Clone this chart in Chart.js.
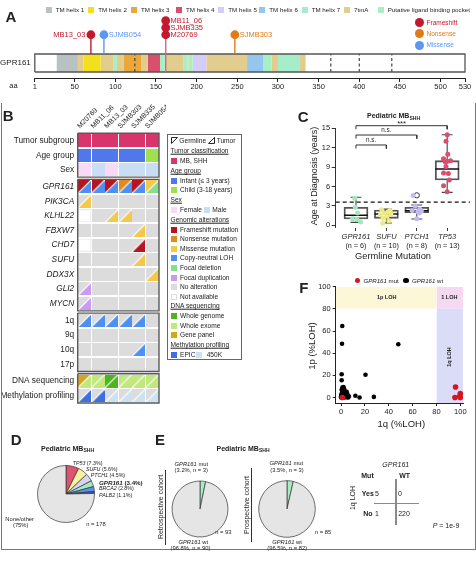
<!DOCTYPE html>
<html><head><meta charset="utf-8">
<script src="https://cdn.jsdelivr.net/npm/chart.js@4.4.1/dist/chart.umd.min.js"></script>
<style>
html,body{margin:0;padding:0;background:#fff;}
#fig{position:relative;width:476px;height:561px;overflow:hidden;background:#fff;font-family:'Liberation Sans',Arial,Helvetica,sans-serif;color:#222;}
#fig canvas{position:absolute;}
.t{position:absolute;white-space:nowrap;line-height:1;}
.b{position:absolute;box-sizing:border-box;}
.sub{font-size:72%;position:relative;top:0.3em;}
</style></head>
<body><div id="fig"></div>
<script>
// ================= DATA =================
// Panel A – GPR161 protein
const proteinLength = 530;
const aaTicks = [1, 50, 100, 150, 200, 250, 300, 350, 400, 450, 500, 530];
const domainNames = ['TM helix 1','TM helix 2','TM helix 3','TM helix 4','TM helix 5','TM helix 6','TM helix 7','7tmA','Putative ligand binding pocket'];
const domainColors = ['#b9c2c2','#f3df1e','#eaa83a','#d9506e','#d4cdf7','#94c6ef','#a6edcb','#e2cd8f','#aaeec4'];
const domainStart = [28, 54, 61, 82, 98, 102, 110, 132, 140, 155, 161, 184, 189, 190, 195, 212, 262, 282, 292, 300, 327];
const domainEnd   = [54, 61, 82, 98, 102, 110, 132, 140, 155, 161, 184, 189, 190, 195, 212, 262, 282, 292, 300, 327, 334];
const domainType  = [0, 7, 1, 7, 8, 7, 2, 7, 3, 8, 7, 8, 7, 8, 4, 7, 5, 8, 7, 6, 7];
const dashedAA = [124, 365, 400, 440];
const mutSample = ['MB13_03','SJMB054','M20769','SJMB335','MB11_06','SJMB303'];
const mutAA = [70, 86, 162, 162, 162, 247];
const mutClass = ['Frameshift','Missense','Frameshift','Frameshift','Frameshift','Nonsense'];
const mutClasses = ['Frameshift','Nonsense','Missense'];

// Panel B – oncoprint
const samples = ['M20769','MB11_06','MB13_03','SJMB303','SJMB335','SJMB054'];
const rowLabels = ['Tumor subgroup','Age group','Sex','GPR161','PIK3CA','KLHL22','FBXW7','CHD7','SUFU','DDX3X','GLI2','MYCN','1q','9q','10q','17p','DNA sequencing','Methylation profiling'];
const rowGroup = [0,0,0,1,1,1,1,1,1,1,1,1,2,2,2,2,3,3];
const tumorSubgroup = ['SHH','SHH','SHH','SHH','SHH','SHH'];
const ageGroup = ['Infant','Infant','Infant','Infant','Infant','Child'];
const sexRow = ['Female','Male','Female','Male','Male','Male'];
const gpr161Row = ['FS/LOH','FS/LOH','FS/LOH','NS/LOH','FS/LOH','MS/DEL'];
const pik3caRow = ['-/MS','-/-','-/-','-/-','-/-','-/-'];
const klhl22Row = ['NA','-/-','-/MS','-/MS','-/-','-/-'];
const fbxw7Row  = ['-/-','-/-','-/-','-/-','-/MS','-/-'];
const chd7Row   = ['NA','-/-','-/-','-/-','-/FS','-/-'];
const sufuRow   = ['-/-','-/-','-/-','-/-','-/MS','-/-'];
const ddx3xRow  = ['-/-','-/-','-/-','-/-','-/-','-/MS'];
const gli2Row   = ['-/DUP','-/-','-/-','-/-','-/-','-/-'];
const mycnRow   = ['-/DUP','-/-','-/-','-/-','-/-','-/-'];
const chr1qRow  = ['-/LOH','-/LOH','-/LOH','-/LOH','-/LOH','-/-'];
const chr9qRow  = ['-/-','-/-','-/-','-/-','-/-','-/-'];
const chr10qRow = ['-/-','-/-','-/-','-/-','-/LOH','-/-'];
const chr17pRow = ['-/-','-/-','-/-','-/-','-/-','-/-'];
const dnaSeqRow = ['GP/WES','WES/WES','WGS/WGS','WES/WES','WES/WES','WES/WES'];
const methylRow = ['-/EPIC','-/EPIC','-/450K','-/450K','-/450K','-/450K'];
const cellColors = {SHH:'#d7356b', Infant:'#5077ec', Child:'#9fe04d', Female:'#f8d9f6', Male:'#c9ddf4',
  FS:'#b6141f', NS:'#e38a1f', MS:'#f3c94b', LOH:'#4e8ff2', DEL:'#84de8f', DUP:'#c99cf2', '-':'#dcdcdc', NA:'#ffffff',
  WGS:'#4db61e', WES:'#c1e87d', GP:'#d3a61d', EPIC:'#3c6fe2', '450K':'#c9e3f5'};

// Panel C – age at diagnosis by germline mutation
const germGenes = ['GPR161','SUFU','PTCH1','TP53'];
const germN = [6, 10, 8, 13];
const ageGPR161 = [4.2, 2.8, 1.9, 1.0, 0.9, 0.5];
const jitGPR161 = [-0.04, -0.02, 0.05, -0.12, 0.03, 0.15];
const ageSUFU = [2.4, 2.3, 2.1, 1.9, 1.8, 1.6, 1.4, 1.1, 0.7, 0.3];
const jitSUFU = [-0.15, 0.12, 0.05, -0.08, 0.15, -0.2, 0.02, -0.1, 0.08, -0.12];
const agePTCH1 = [4.6, 3.0, 2.5, 2.3, 2.2, 2.1, 1.9, 1.0];
const jitPTCH1 = [-0.12, -0.05, 0.1, -0.15, 0.15, 0.03, 0.08, 0.0];
const ageTP53 = [14.0, 13.0, 11.0, 10.3, 10.0, 9.9, 9.1, 8.1, 8.0, 7.0, 6.1, 5.2, 9.8];
const jitTP53 = [0.0, -0.04, 0.02, -0.12, 0.11, 0.0, -0.04, -0.12, 0.04, 0.07, -0.12, 0.0, -0.06];
const boxLo  = [0.46, 0.35, 0.97, 5.1];
const boxQ1  = [0.97, 1.08, 1.95, 7.0];
const boxMed = [1.55, 1.75, 2.26, 8.7];
const boxQ3  = [2.78, 2.37, 2.78, 10.0];
const boxHi  = [4.33, 2.5, 3.14, 14.0];
const outlierGroup = [2];
const outlierAge = [4.64];
const infantCutoff = 3.6;
const compFrom = [1, 1, 1];
const compTo = [2, 3, 4];
const compLabel = ['n.s.', 'n.s.', '***'];
const compY = [12.42, 13.96, 15.4];

// Panel D – germline predisposition pie
const pieDGenes = ['TP53','SUFU','PTCH1','GPR161','BRCA2','PALB2','None/other'];
const pieDPct = [7.3, 5.6, 4.5, 3.4, 2.8, 1.1, 75.3];
const pieDTotal = 178;

// Panel E – cohorts
const retroCounts = [3, 90];
const prosCounts = [3, 82];

// Panel F – 1p / 1q LOH
const wt1q = [1, 0.8, 0.5, 0.5, 48, 20.5, 12, 15.5, 27.5, 1.1, 2.5, 2.5, 4.7, 5.3, 0.6, 4.2, 6, 0, 1.7, 3.3, 1, 2, 3, 0.5, 1.5, 3.5, 2.8, 0, 1, 2, 0.3, 4, 5, 0.2, 1.5, 3, 2, 6.5];
const wt1p = [64.5, 48.5, 21, 15.5, 48, 20.5, 1.5, 0, 0.5, 9, 8, 6.6, 5.1, 3, 2.1, 0.6, 0, 0, 3.5, 2, 5, 1, 0, 7, 4.5, 4, 2.8, 1, 0, 0.3, 3, 1.5, 0.2, 0.5, 1.8, 6, 9.5, 1];
const mut1q = [96, 95.5, 100, 99.5, 100, 1];
const mut1p = [9.5, 0, 3.5, 1, 0, 0];
const lohCutoff = 80;
const lohTicks = [0, 20, 40, 60, 80, 100];

// 2x2 table
const tableRows = ['Yes', 'No'];
const tableCols = ['Mut', 'WT'];
const tableCounts = [[5, 0], [1, 220]];

// ================= HELPERS =================
Chart.defaults.font.family = "'Liberation Sans', Arial, Helvetica, sans-serif";
Chart.defaults.color = '#222';
const FAM = "'Liberation Sans', Arial, Helvetica, sans-serif";
const fig = document.getElementById('fig');
function T(x, y, html, o = {}) {
  const d = document.createElement('div');
  d.className = 't'; d.innerHTML = html;
  const s = d.style;
  s.left = x + 'px'; s.top = y + 'px';
  s.fontSize = (o.size || 7) + 'px';
  if (o.bold) s.fontWeight = 'bold';
  if (o.italic) s.fontStyle = 'italic';
  if (o.color) s.color = o.color;
  if (o.underline) s.textDecoration = 'underline';
  const ax = o.align === 'center' ? '-50%' : o.align === 'right' ? '-100%' : '0';
  s.transform = `translate(${ax},-50%)` + (o.rot ? ` rotate(${o.rot}deg)` : '');
  fig.appendChild(d); return d;
}
function box(x, y, w, h, css) {
  const d = document.createElement('div'); d.className = 'b';
  Object.assign(d.style, {left: x + 'px', top: y + 'px', width: w + 'px', height: h + 'px'}, css || {});
  fig.appendChild(d); return d;
}
function mk(x, y, w, h, cfg) {
  const c = document.createElement('canvas');
  c.width = w; c.height = h;
  Object.assign(c.style, {left: x + 'px', top: y + 'px', width: w + 'px', height: h + 'px'});
  fig.appendChild(c);
  cfg.options = Object.assign({responsive: false, maintainAspectRatio: false, animation: false, events: []}, cfg.options || {});
  cfg.options.plugins = Object.assign({legend: {display: false}, tooltip: {enabled: false}}, cfg.options.plugins || {});
  const ch = new Chart(c, cfg);
  ch.offX = x; ch.offY = y;
  return ch;
}
const px = (ch, v) => ch.offX + ch.scales.x.getPixelForValue(v);
const py = (ch, v) => ch.offY + ch.scales.y.getPixelForValue(v);
const noPad = s => { s.paddingLeft = 0; s.paddingRight = 0; s.paddingTop = 0; s.paddingBottom = 0; };
const seg = (pts) => ({type: 'scatter', showLine: true, pointRadius: 0, data: pts, borderWidth: 1, borderColor: '#333', fill: false});

// ================= PANEL A =================
const typeColor = {Frameshift: '#c3182d', Nonsense: '#e27b17', Missense: '#5b98f0'};
const level = mutAA.map((p, i) => mutAA.slice(0, i).filter(q => q === p).length);
const dotY = level.map(l => 2.07 + l * 0.39);
const dsA = [];
dsA.push({type: 'scatter', data: mutAA.map((p, i) => ({x: p, y: dotY[i]})), pointRadius: 4.4,
  pointBackgroundColor: mutClass.map(c => typeColor[c]), pointBorderWidth: 0, order: 0, clip: false});
[...new Set(mutAA)].forEach(p => {
  const idx = mutAA.indexOf(p);
  const multi = mutAA.filter(q => q === p).length > 1;
  dsA.push(Object.assign(seg([{x: p, y: multi ? 0 : 1}, {x: p, y: 2.07}]),
    {borderColor: multi ? '#d0687e' : typeColor[mutClass[idx]], borderWidth: 1.4, order: 1}));
});
dsA.push(Object.assign(seg([{x: 1, y: 0}, {x: proteinLength, y: 0}, {x: proteinLength, y: 1}, {x: 1, y: 1}, {x: 1, y: 0}]),
  {borderColor: '#555', borderWidth: 1.3, order: 2, clip: false}));
dashedAA.forEach(p => dsA.push(Object.assign(seg([{x: p, y: 0}, {x: p, y: 1}]),
  {borderColor: '#444', borderWidth: 1.2, borderDash: [3, 2.5], order: 3})));
domainStart.forEach((s, i) => dsA.push(Object.assign(seg([{x: s, y: 0.5}, {x: domainEnd[i], y: 0.5}]),
  {borderColor: domainColors[domainType[i]], borderWidth: 18, order: 4})));
const chartA = mk(0, 0, 476, 100, {type: 'scatter', data: {datasets: dsA}, options: {
  layout: {padding: {left: 0, right: 11, top: 18, bottom: 0}},
  scales: {
    x: {type: 'linear', min: 1, max: proteinLength,
      afterBuildTicks: s => { s.ticks = aaTicks.map(v => ({value: v})); },
      ticks: {font: {size: 7.5}, color: '#222', padding: 0, autoSkip: false, maxRotation: 0},
      grid: {display: true, drawOnChartArea: false, drawTicks: true, tickLength: 4, color: '#222'},
      border: {display: true, color: '#222', width: 1},
      afterFit: s => { s.height = 22; noPad(s); }},
    y: {type: 'linear', min: -0.333, max: 3,
      afterBuildTicks: s => { s.ticks = [{value: 0.5}]; },
      ticks: {callback: () => 'GPR161', font: {size: 8}, color: '#222', padding: 4},
      grid: {display: false, drawTicks: false}, border: {display: false},
      afterFit: s => { s.width = 34.8; noPad(s); }}
  }}});

// ================= PANEL B =================
const rowsB = [tumorSubgroup, ageGroup, sexRow, gpr161Row, pik3caRow, klhl22Row, fbxw7Row, chd7Row, sufuRow, ddx3xRow, gli2Row, mycnRow, chr1qRow, chr9qRow, chr10qRow, chr17pRow, dnaSeqRow, methylRow];
const rowY = rowLabels.map((_, i) => i + 0.15 * rowGroup[i]);
const CS = 13;
function cellImg(code) {
  const c = document.createElement('canvas'); c.width = CS; c.height = CS;
  const g = c.getContext('2d');
  const p = code.split('/');
  if (p.length === 1 || (p[0] === '-' && p[1] === '-')) {
    g.fillStyle = cellColors[p[0]]; g.fillRect(0, 0, CS, CS);
    if (p[0] === 'NA') { g.strokeStyle = '#ececec'; g.lineWidth = 1; g.strokeRect(0.5, 0.5, CS - 1, CS - 1); }
  } else {
    g.fillStyle = cellColors[p[0]]; g.beginPath(); g.moveTo(0, 0); g.lineTo(CS, 0); g.lineTo(0, CS); g.closePath(); g.fill();
    g.fillStyle = cellColors[p[1]]; g.beginPath(); g.moveTo(CS, 0); g.lineTo(CS, CS); g.lineTo(0, CS); g.closePath(); g.fill();
    g.strokeStyle = '#fff'; g.lineWidth = 1.1; g.beginPath(); g.moveTo(0, CS); g.lineTo(CS, 0); g.stroke();
  }
  return c;
}
const dsB = [];
[0, 1, 2, 3].forEach(gr => {
  const ys = rowY.filter((_, i) => rowGroup[i] === gr);
  const t = Math.min(...ys) - 0.5, b = Math.max(...ys) + 0.5;
  dsB.push(Object.assign(seg([{x: -0.5, y: t}, {x: 5.5, y: t}, {x: 5.5, y: b}, {x: -0.5, y: b}, {x: -0.5, y: t}]),
    {borderColor: '#5a5a5a', borderWidth: 1.4, order: 0, clip: false}));
});
rowsB.forEach((row, r) => dsB.push({type: 'scatter', order: 1,
  data: row.map((_, c) => ({x: c, y: rowY[r]})), pointRadius: 6, pointStyle: row.map(cellImg)}));
mk(0, 104, 166, 306, {type: 'scatter', data: {datasets: dsB}, options: {
  layout: {padding: {left: 0, right: 1.7, top: 0, bottom: 3.3}},
  scales: {
    x: {type: 'linear', position: 'top', min: -0.5, max: 5.5,
      afterBuildTicks: s => { s.ticks = samples.map((_, i) => ({value: i})); },
      ticks: {callback: (v, i) => samples[i], font: {size: 7}, color: '#222', padding: 3, autoSkip: false, minRotation: 45, maxRotation: 45},
      grid: {display: false, drawTicks: false}, border: {display: false},
      afterFit: s => { s.height = 29.3; noPad(s); }},
    y: {type: 'linear', reverse: true, min: -0.5, max: 17.95,
      afterBuildTicks: s => { s.ticks = rowY.map(v => ({value: v})); },
      ticks: {callback: (v, i) => rowLabels[i], autoSkip: false, color: '#222', padding: 3.5,
        font: ctx => ({family: FAM, size: 8.3, style: (rowGroup[ctx.index] === 1) ? 'italic' : 'normal'})},
      grid: {display: false, drawTicks: false}, border: {display: false},
      afterFit: s => { s.width = 77.7; noPad(s); }}
  }}});

// ================= PANEL C =================
const ageData = [ageGPR161, ageSUFU, agePTCH1, ageTP53];
const jitData = [jitGPR161, jitSUFU, jitPTCH1, jitTP53];
const ptColors = ['#a3e7bb', '#eeea86', '#c3baf1', '#dc4e70'];
const dsC = [];
ageData.forEach((arr, g) => dsC.push({type: 'scatter', order: 0, data: arr.map((v, k) => ({x: g + 1 + jitData[g][k], y: v})),
  pointRadius: 2.5, pointBackgroundColor: ptColors[g], pointBorderWidth: 0}));
dsC.push({type: 'scatter', order: 0, data: outlierGroup.map((g, k) => ({x: g + 1, y: outlierAge[k]})),
  pointRadius: 2.6, pointBackgroundColor: '#fff', pointBorderColor: '#333', pointBorderWidth: 1});
const medPts = [], whPts = [], brPts = [];
germGenes.forEach((g, i) => {
  const c = i + 1;
  medPts.push({x: c - 0.39, y: boxMed[i]}, {x: c + 0.39, y: boxMed[i]}, {x: c, y: null});
  whPts.push({x: c - 0.18, y: boxHi[i]}, {x: c + 0.18, y: boxHi[i]}, {x: c, y: null},
    {x: c, y: boxHi[i]}, {x: c, y: boxQ3[i]}, {x: c, y: null},
    {x: c, y: boxQ1[i]}, {x: c, y: boxLo[i]}, {x: c, y: null},
    {x: c - 0.18, y: boxLo[i]}, {x: c + 0.18, y: boxLo[i]}, {x: c, y: null});
});
compFrom.forEach((a, j) => {
  const b = compTo[j], y = compY[j];
  brPts.push({x: a, y: y - 0.55}, {x: a, y: y}, {x: b, y: y}, {x: b, y: y - 0.55}, {x: a, y: null});
});
dsC.push(Object.assign(seg(medPts), {borderColor: '#111', borderWidth: 1.4, order: 1, spanGaps: false}));
dsC.push(Object.assign(seg(whPts), {borderColor: '#444', borderWidth: 1.1, order: 1, spanGaps: false}));
dsC.push(Object.assign(seg(brPts), {borderColor: '#333', borderWidth: 1, order: 1, spanGaps: false, clip: false}));
dsC.push({type: 'bar', order: 2, data: germGenes.map((g, i) => ({x: i + 1, y: [boxQ1[i], boxQ3[i]]})),
  backgroundColor: 'rgba(255,255,255,0)', borderColor: '#555', borderWidth: 1.2, borderSkipped: false, barThickness: 24});
dsC.push(Object.assign(seg([{x: 0.333, y: infantCutoff}, {x: 4.75, y: infantCutoff}]),
  {borderColor: '#111', borderWidth: 1.2, borderDash: [4, 3], order: 3}));
const chartC = mk(300, 110, 176, 132, {type: 'bar', data: {datasets: dsC}, options: {
  layout: {padding: {left: 0, right: 6, top: 18.3, bottom: 0}},
  scales: {
    x: {type: 'linear', min: 0.333, max: 4.75, offset: false,
      afterBuildTicks: s => { s.ticks = germGenes.map((_, i) => ({value: i + 1})); },
      ticks: {callback: (v, i) => germGenes[i], font: {size: 7.5, style: 'italic'}, color: '#222', padding: 2, autoSkip: false, maxRotation: 0},
      grid: {display: true, offset: false, drawOnChartArea: false, drawTicks: true, tickLength: 3, color: '#333'},
      border: {display: false},
      afterFit: s => { s.height = 14.1; noPad(s); }},
    y: {type: 'linear', min: -0.4, max: 15,
      afterBuildTicks: s => { s.ticks = [0, 3, 6, 9, 12, 15].map(v => ({value: v})); },
      ticks: {font: {size: 7.5}, color: '#222', padding: 1.5},
      grid: {display: true, drawOnChartArea: false, drawTicks: true, tickLength: 4, color: '#333'},
      border: {display: true, color: '#333'},
      afterFit: s => { s.width = 35.7; noPad(s); }}
  }}});

// ================= PANEL F =================
const xMinF = -4.5, xMaxF = 102.5, yMinF = -5, yMaxF = 100;
const dsF = [];
dsF.push({type: 'scatter', order: 0, data: mut1q.map((v, i) => ({x: v, y: mut1p[i]})), pointRadius: 2.8, pointBackgroundColor: '#d7141f', pointBorderWidth: 0});
dsF.push({type: 'scatter', order: 1, data: wt1q.map((v, i) => ({x: v, y: wt1p[i]})), pointRadius: 2.3, pointBackgroundColor: '#000', pointBorderWidth: 0});
dsF.push(Object.assign(seg([{x: xMinF, y: yMaxF}, {x: lohCutoff, y: yMaxF}]), {borderWidth: 0, fill: {value: lohCutoff}, backgroundColor: '#fbf7d7', order: 5}));
dsF.push(Object.assign(seg([{x: lohCutoff, y: yMaxF}, {x: xMaxF, y: yMaxF}]), {borderWidth: 0, fill: {value: lohCutoff}, backgroundColor: '#f5d9f2', order: 5}));
dsF.push(Object.assign(seg([{x: lohCutoff, y: lohCutoff}, {x: xMaxF, y: lohCutoff}]), {borderWidth: 0, fill: {value: yMinF}, backgroundColor: '#dadcf8', order: 5}));
mk(300, 280, 176, 138, {type: 'scatter', data: {datasets: dsF}, options: {
  layout: {padding: {left: 0, right: 12.7, top: 6.7, bottom: 0}},
  scales: {
    x: {type: 'linear', min: xMinF, max: xMaxF,
      afterBuildTicks: s => { s.ticks = lohTicks.map(v => ({value: v})); },
      ticks: {font: {size: 7.5}, color: '#222', padding: 1, maxRotation: 0},
      grid: {display: true, drawOnChartArea: false, drawTicks: true, tickLength: 3, color: '#222'},
      border: {display: true, color: '#222'},
      afterFit: s => { s.height = 15; noPad(s); }},
    y: {type: 'linear', min: yMinF, max: yMaxF,
      afterBuildTicks: s => { s.ticks = lohTicks.map(v => ({value: v})); },
      ticks: {font: {size: 7.5}, color: '#222', padding: 2},
      grid: {display: true, drawOnChartArea: false, drawTicks: true, tickLength: 3, color: '#222'},
      border: {display: true, color: '#222'},
      afterFit: s => { s.width = 35.7; noPad(s); }}
  }}});

// ================= PIES =================
function pie(x, y, w, h, values, colors, r) {
  return mk(x, y, w, h, {type: 'pie', data: {labels: values.map((_, i) => String(i)), datasets: [{data: values,
    backgroundColor: colors, borderColor: '#333', borderWidth: 0.7}]}, options: {radius: r, layout: {padding: 0}}});
}
pie(31, 459, 70, 70, pieDPct, ['#dc5470', '#f7f29c', '#d8d2f7', '#a6ecc2', '#5d90ea', '#3356c0', '#e5e5e5'], 28.5);
pie(165, 474, 70, 70, retroCounts, ['#a6ecc2', '#e5e5e5'], 28);
pie(252, 474, 70, 70, prosCounts, ['#a6ecc2', '#e5e5e5'], 28.3);

// ================= TEXT & DECOR =================
box(0.5, 103, 475, 447, {borderLeft: '1px solid #777', borderRight: '1px solid #777', borderBottom: '1px solid #777'});

// Panel A
T(5.5, 15.5, 'A', {size: 15, bold: true});
const legAx = [45.7, 88.3, 131, 176, 218.3, 259.3, 301.7, 344, 377.7];
domainNames.forEach((n, i) => { box(legAx[i], 7, 6, 6, {background: domainColors[i]}); T(legAx[i] + 10, 10.2, n, {size: 6.2}); });
mutClasses.forEach((c, i) => {
  box(414.5, 18.2 + i * 11.2, 9, 9, {background: typeColor[c], borderRadius: '50%'});
  T(426.5, 22.7 + i * 11.2, c, {size: 6.5, color: typeColor[c]});
});
mutSample.forEach((s, i) => {
  const x = px(chartA, mutAA[i]), y = py(chartA, dotY[i]);
  if (i === 0) T(x - 5.5, y, s, {size: 7.5, color: typeColor[mutClass[i]], align: 'right'});
  else T(x + 4.8, y, s, {size: 7.5, color: typeColor[mutClass[i]]});
});
T(9.3, 85.5, 'aa', {size: 7.5});

// Panel B
T(2.7, 115, 'B', {size: 15, bold: true});
box(167.3, 134.3, 74.7, 225.7, {border: '1px solid #666'});
const tri = (d) => `<svg width="7" height="7" style="vertical-align:-0.5px"><path d="${d}" fill="none" stroke="#222" stroke-width="1"/></svg>`;
T(170.5, 141, tri('M0.5,0.5 H6.5 L0.5,6.5 Z') + ' Germline ' + tri('M6.5,0.5 V6.5 H0.5 Z') + ' Tumor', {size: 6.6});
const legB = [
  ['h', 151, 'Tumor classification'], ['s', 160.7, 'SHH', 'MB, SHH'],
  ['h', 171, 'Age group'], ['s', 180.7, 'Infant', 'Infant (≤ 3 years)'], ['s', 190.3, 'Child', 'Child (3-18 years)'],
  ['h', 200, 'Sex'], ['s2', 210, 'Female', 'Female', 'Male', 'Male'],
  ['h', 220, 'Genomic alterations'],
  ['s', 230, 'FS', 'Frameshift mutation'], ['s', 239.3, 'NS', 'Nonsense mutation'], ['s', 249, 'MS', 'Missense mutation'],
  ['s', 258.3, 'LOH', 'Copy-neutral LOH'], ['s', 268, 'DEL', 'Focal deletion'], ['s', 277.7, 'DUP', 'Focal duplication'],
  ['s', 287, '-', 'No alteration'], ['s', 296.7, 'NA', 'Not available'],
  ['h', 306, 'DNA sequencing'], ['s', 316, 'WGS', 'Whole genome'], ['s', 325.7, 'WES', 'Whole exome'], ['s', 335, 'GP', 'Gene panel'],
  ['h', 345, 'Methylation profiling'], ['s2', 355, 'EPIC', 'EPIC', '450K', '450K']
];
legB.forEach(e => {
  if (e[0] === 'h') T(170.5, e[1], e[2], {size: 6.6, underline: true});
  else {
    const sw = (x, code) => box(x, e[1] - 3, 6, 6, {background: cellColors[code], border: code === 'NA' ? '0.5px solid #ddd' : 'none'});
    sw(170.7, e[2]); T(180, e[1], e[3], {size: 6.6});
    if (e[0] === 's2') { const x2 = e[2] === 'EPIC' ? 196 : 204; sw(x2, e[4]); T(x2 + (e[2] === 'EPIC' ? 10.7 : 8.3), e[1], e[5], {size: 6.6}); }
  }
});

// Panel C
T(297.7, 116, 'C', {size: 15, bold: true});
T(393.5, 116, 'Pediatric MB<span class="sub">SHH</span>', {size: 7, bold: true, align: 'center'});
compFrom.forEach((a, j) => {
  const x = (px(chartC, a) + px(chartC, compTo[j])) / 2;
  const y = py(chartC, compY[j]) - (compLabel[j] === '***' ? 1.8 : 5);
  T(x, y, compLabel[j], {size: compLabel[j] === '***' ? 7.5 : 6.3, align: 'center'});
});
germGenes.forEach((g, i) => T(px(chartC, i + 1), 246.2, `(n = ${germN[i]})`, {size: 7.2, align: 'center'}));
T(314, 175.5, 'Age at Diagnosis (years)', {size: 9, align: 'center', rot: -90});
T(393, 256.7, 'Germline Mutation', {size: 9.3, align: 'center'});

// Panel F
T(299.3, 287.2, 'F', {size: 15, bold: true});
box(354.7, 277.7, 5.6, 5.6, {background: '#d7141f', borderRadius: '50%'});
T(363.5, 280.5, '<i>GPR161</i> mut', {size: 6.1});
box(403, 277.7, 5.6, 5.6, {background: '#000', borderRadius: '50%'});
T(412, 280.5, '<i>GPR161</i> wt', {size: 6.1});
T(386.7, 297.7, '1p LOH', {size: 5.5, bold: true, align: 'center'});
T(449.3, 297.7, '1 LOH', {size: 5.5, bold: true, align: 'center'});
T(450, 356.7, '1q LOH', {size: 5.5, bold: true, align: 'center', rot: -90});
T(311.7, 345.5, '1p (%LOH)', {size: 9.5, align: 'center', rot: -90});
T(401.3, 424, '1q (%LOH)', {size: 9.5, align: 'center'});

// Panel D
T(10.7, 438.7, 'D', {size: 15, bold: true});
T(67.5, 448.5, 'Pediatric MB<span class="sub">SHH</span>', {size: 7, bold: true, align: 'center'});
const dLab = [[72.7, 464], [86, 469.5], [90.7, 476], [99, 482.7], [99, 489.3], [99, 496]];
pieDGenes.slice(0, 6).forEach((g, i) => {
  const bold = g === 'GPR161';
  T(dLab[i][0], dLab[i][1], `<i>${g}</i> (${pieDPct[i]}%)`, {size: bold ? 6.2 : 5.3, bold: bold});
});
T(19.7, 519.5, 'None/other', {size: 5.8, align: 'center'});
T(20.7, 526.3, `(${Math.round(pieDPct[6])}%)`, {size: 5.8, align: 'center'});
T(96, 525, `n = ${pieDTotal}`, {size: 5.8, align: 'center'});

// Panel E
T(155, 438.7, 'E', {size: 15, bold: true});
T(243, 448.5, 'Pediatric MB<span class="sub">SHH</span>', {size: 7, bold: true, align: 'center'});
const pct = (a, tot) => (100 * a / tot).toFixed(1);
const retroTot = retroCounts[0] + retroCounts[1], prosTot = prosCounts[0] + prosCounts[1];
T(160, 507, 'Retrospective cohort', {size: 7, align: 'center', rot: -90});
box(165.2, 470, 1, 75, {background: '#333'});
T(191.3, 464.5, '<i>GPR161</i> mut', {size: 5.8, align: 'center'});
T(191.3, 471.2, `(${pct(retroCounts[0], retroTot)}%, n = ${retroCounts[0]})`, {size: 5.8, align: 'center'});
T(223.3, 532.7, `n = ${retroTot}`, {size: 5.8, align: 'center'});
T(193.3, 542.7, '<i>GPR161</i> wt', {size: 5.8, align: 'center'});
T(190.5, 549.3, `(${pct(retroCounts[1], retroTot)}%, n = ${retroCounts[1]})`, {size: 5.8, align: 'center'});
T(246, 505, 'Prospective cohort', {size: 7, align: 'center', rot: -90});
box(251.2, 468, 1, 73.7, {background: '#333'});
T(286.3, 464.3, '<i>GPR161</i> mut', {size: 5.8, align: 'center'});
T(287, 471, `(${pct(prosCounts[0], prosTot)}%, n = ${prosCounts[0]})`, {size: 5.8, align: 'center'});
T(323, 533.3, `n = ${prosTot}`, {size: 5.8, align: 'center'});
T(287, 542.7, '<i>GPR161</i> wt', {size: 5.8, align: 'center'});
T(287.2, 549.3, `(${pct(prosCounts[1], prosTot)}%, n = ${prosCounts[1]})`, {size: 5.8, align: 'center'});

// 2x2 table
T(395.8, 464, '<i>GPR161</i>', {size: 7, align: 'center'});
T(367.5, 475, tableCols[0], {size: 7, bold: true, align: 'center'});
T(404.7, 475, tableCols[1], {size: 7, bold: true, align: 'center'});
T(351.5, 497.5, '1q LOH', {size: 7, align: 'center', rot: -90});
tableRows.forEach((r, i) => {
  const y = i === 0 ? 492.7 : 513.3;
  T(367.8, y, r, {size: 7, bold: true, align: 'center'});
  T(377, y, String(tableCounts[i][0]), {size: 7, align: 'center'});
  T(i === 0 ? 400 : 404, y, String(tableCounts[i][1]), {size: 7, align: 'center'});
});
box(395.3, 479.3, 1.6, 45.7, {background: '#8a8a8a'});
box(374.3, 502.5, 44.4, 1.6, {background: '#8a8a8a'});
T(432.7, 525.3, '<i>P</i> = 1e-9', {size: 7});
</script></body></html>
